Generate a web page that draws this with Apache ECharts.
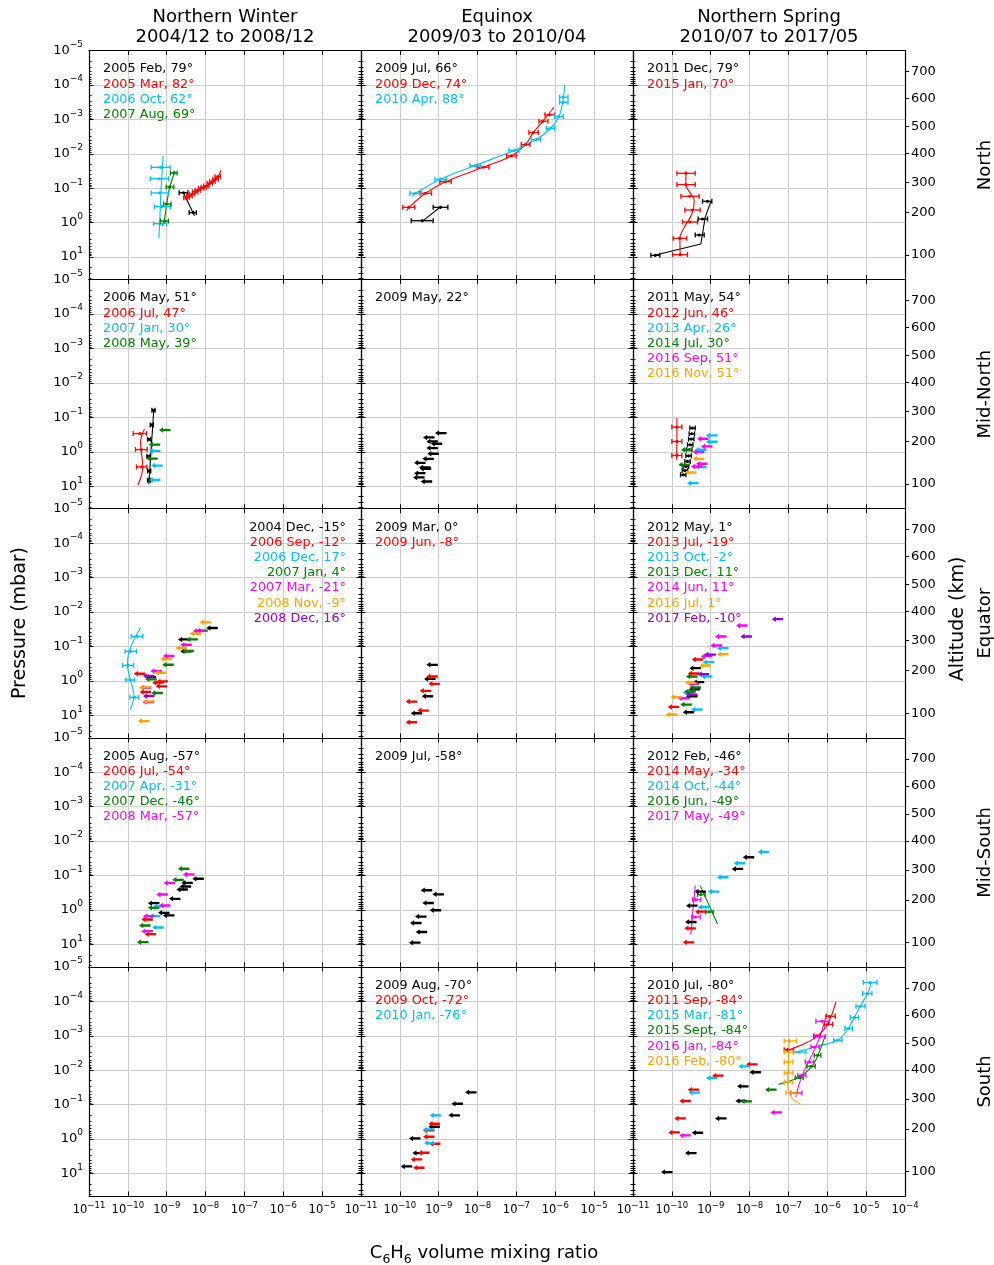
<!DOCTYPE html>
<html>
<head>
<meta charset="utf-8">
<script src="https://cdn.jsdelivr.net/npm/echarts@6/dist/echarts.min.js"></script>
<style>
html, body { margin: 0; padding: 0; background: #fff; }
#chart { width: 994px; height: 1265px; }
</style>
</head>
<body>
<div id="chart"></div>
<script>
// ---- axis ticks / labels ----
const xTickValues = [1e-11, 1e-10, 1e-9, 1e-8, 1e-7, 1e-6, 1e-5, 1e-4];
const xLabelValues = [1e-11, 1e-10, 1e-9, 1e-8, 1e-7, 1e-6, 1e-5];
const xLabelValuesLast = [1e-11, 1e-10, 1e-9, 1e-8, 1e-7, 1e-6, 1e-5, 1e-4];
const pressureTicks = [1e-5, 1e-4, 1e-3, 1e-2, 1e-1, 1, 10];
const altitudeLabels = [100, 200, 300, 400, 500, 600, 700];
const altitudePressure = [8.67, 0.506, 0.068, 9.8e-3, 1.61e-3, 2.48e-4, 4.07e-5];
const columnTitles = ['Northern Winter\n2004/12 to 2008/12', 'Equinox\n2009/03 to 2010/04', 'Northern Spring\n2010/07 to 2017/05'];
const rowNames = ['North', 'Mid-North', 'Equator', 'Mid-South', 'South'];

// ---- data: [x, p, xlo, xhi] for retrievals, [x, p] for fits and upper limits ----
// Northern Winter
const wN_2005Feb = [[2.7e-9, 0.135, 2.09e-9, 3.49e-9], [4.8e-9, 0.51, 3.77e-9, 5.8e-9]];
const wN_2005FebFit = [[2.7e-9, 0.135], [5.2e-9, 0.63]];
const wN_2005Mar = [[3.22e-9, 0.188, 2.74e-9, 3.78e-9], [3.85e-9, 0.168, 3.27e-9, 4.52e-9], [4.5e-9, 0.147, 3.83e-9, 5.29e-9],
  [5.4e-9, 0.128, 4.59e-9, 6.35e-9], [6.3e-9, 0.115, 5.36e-9, 7.4e-9], [7.7e-9, 0.1, 6.55e-9, 9.05e-9], [9.0e-9, 0.094, 7.65e-9, 1.06e-8],
  [1.05e-8, 0.086, 8.9e-9, 1.23e-8], [1.28e-8, 0.072, 1.09e-8, 1.5e-8], [1.5e-8, 0.064, 1.28e-8, 1.76e-8], [1.8e-8, 0.055, 1.53e-8, 2.12e-8],
  [2.06e-8, 0.046, 1.75e-8, 2.42e-8]];
const wN_2005MarFit = [[2.98e-9, 0.22], [4.25e-9, 0.161], [7.7e-9, 0.108], [1.39e-8, 0.069], [2.06e-8, 0.048], [2.5e-8, 0.0295]];
const wN_2006Oct = [[6.9e-10, 0.0247, 3.98e-10, 1.22e-9], [6.5e-10, 0.053, 3.8e-10, 1.13e-9], [6.6e-10, 0.137, 3.98e-10, 1.13e-9],
  [7.5e-10, 0.343, 4.85e-10, 1.25e-9], [6.6e-10, 1.07, 4.6e-10, 1.0e-9]];
const wN_2006OctFit = [[8.1e-10, 0.0116], [7.5e-10, 0.046], [7.05e-10, 0.14], [6.8e-10, 0.43], [6.5e-10, 1.31], [6.3e-10, 2.85]];
const wN_2007Aug = [[1.52e-9, 0.036, 1.25e-9, 1.85e-9], [1.18e-9, 0.092, 9.7e-10, 1.52e-9], [1.0e-9, 0.287, 8.4e-10, 1.3e-9],
  [8.8e-10, 0.895, 6.9e-10, 1.11e-9]];
const wN_2007AugFit = [[1.65e-9, 0.031], [1.2e-9, 0.092], [1.0e-9, 0.287], [8.6e-10, 0.895], [7.6e-10, 1.22]];

const wMN_2006May = [[4.57e-10, 0.0624, 4.16e-10, 5.03e-10], [4.14e-10, 0.166, 3.77e-10, 4.55e-10], [3.53e-10, 0.434, 3.21e-10, 3.88e-10],
  [3.4e-10, 1.35, 3.09e-10, 3.74e-10], [3.53e-10, 3.6, 3.21e-10, 3.88e-10], [3.53e-10, 6.7, 3.21e-10, 3.88e-10]];
const wMN_2006MayFit = [[4.66e-10, 0.057], [3.47e-10, 8.8]];
const wMN_2006Jul = [[2.03e-10, 0.296, 1.37e-10, 3.02e-10], [2.2e-10, 0.865, 1.57e-10, 3.14e-10], [2.29e-10, 2.75, 1.67e-10, 3.08e-10]];
const wMN_2006JulFit = [[2.68e-10, 0.217], [2.12e-10, 0.52], [2.2e-10, 0.9], [2.43e-10, 2.75], [1.81e-10, 9.4]];
const wMN_2007JanLim = [[6.9e-10, 0.946], [7.9e-10, 2.52], [6.9e-10, 6.6]];
const wMN_2008MayLim = [[1.25e-9, 0.235], [6.8e-10, 0.62], [5.9e-10, 1.58]];

const wEQ_2004DecLim = [[2.06e-8, 0.0292], [3.85e-9, 0.0624], [4.42e-9, 0.139], [5.35e-10, 0.775]];
const wEQ_2006SepLim = [[2.79e-10, 0.62], [8.4e-10, 1.13], [1.07e-9, 1.035], [1.03e-9, 1.44], [3.98e-10, 2.11]];
const wEQ_2006Dec = [[1.7e-10, 0.051, 1.22e-10, 2.43e-10], [1.17e-10, 0.139, 8.5e-11, 1.67e-10], [1.0e-10, 0.355, 7.3e-11, 1.4e-10],
  [1.17e-10, 0.946, 8.9e-11, 1.48e-10], [1.48e-10, 3.01, 1.13e-10, 1.92e-10]];
const wEQ_2006DecFit = [[2.12e-10, 0.0286], [1.48e-10, 0.0596], [1.04e-10, 0.163], [9.8e-11, 0.355], [1.17e-10, 0.946], [1.43e-10, 2.64], [1.15e-10, 6.9]];
const wEQ_2007JanLim = [[1.14e-8, 0.0349], [6.3e-9, 0.0624], [4.97e-9, 0.136], [1.52e-9, 0.34], [5.56e-10, 0.9], [7.95e-10, 2.25]];
const wEQ_2007MarLim = [[9.35e-9, 0.0357], [4.42e-9, 0.0891], [1.58e-9, 0.19], [7.5e-10, 0.518], [3.98e-10, 1.58], [4.66e-10, 4.12]];
const wEQ_2008NovLim = [[1.39e-8, 0.02], [7.7e-9, 0.0427], [3.35e-9, 0.111], [1.35e-9, 0.232], [9.7e-10, 0.58], [3.83e-10, 1.55],
  [4.85e-10, 3.94], [3.6e-10, 14.7]];
const wEQ_2008DecLim = [[4.85e-10, 0.724], [4.85e-10, 2.75]];

const wMS_2005AugLim = [[9.0e-9, 0.124], [4.69e-9, 0.163], [4.25e-9, 0.208], [3.49e-9, 0.254], [2.26e-9, 0.474], [6.5e-10, 0.634],
  [1.18e-9, 1.21], [1.58e-9, 1.44]];
const wMS_2006JulLim = [[4.4e-10, 1.89], [5.35e-10, 5.04]];
const wMS_2007AprLim = [[8.8e-10, 0.79], [6.9e-10, 1.51], [8.4e-10, 3.22]];
const wMS_2007DecLim = [[3.85e-9, 0.0637], [2.75e-9, 0.133], [6.5e-10, 0.865], [3.83e-10, 2.82], [3.4e-10, 8.6]];
const wMS_2008MarLim = [[5.17e-9, 0.093], [1.65e-9, 0.166], [1.07e-9, 0.355], [1.25e-9, 0.74], [4.85e-10, 1.51], [4.4e-10, 4.12]];

// Equinox
const eN_2009Jul = [[1.11e-9, 0.358, 7.2e-10, 1.72e-9], [3.76e-10, 0.875, 1.96e-10, 7.2e-10]];
const eN_2009JulFit = [[3.99e-10, 0.875], [1.18e-9, 0.328]];
const eN_2009Dec = [[1.71e-10, 0.358, 1.19e-10, 2.43e-10], [4.58e-10, 0.14, 3.27e-10, 6.54e-10], [1.5e-9, 0.0643, 1.07e-9, 2.1e-9],
  [1.4e-8, 0.0246, 9.8e-9, 1.96e-8], [7.36e-8, 0.0115, 5.58e-8, 9.9e-8], [1.72e-7, 0.0054, 1.33e-7, 2.23e-7],
  [2.71e-7, 0.00242, 2.1e-7, 3.65e-7], [4.81e-7, 0.00113, 3.8e-7, 6.47e-7], [7.14e-7, 7.4e-4, 5.42e-7, 9.6e-7]];
const eN_2009DecFit = [[1.49e-10, 0.448], [1.71e-10, 0.358], [4.58e-10, 0.14], [1.5e-9, 0.0643], [1.4e-8, 0.0246], [7.36e-8, 0.0115],
  [1.72e-7, 0.0054], [2.71e-7, 0.00242], [4.81e-7, 0.00113], [9.25e-7, 4.45e-4]];
const eN_2010Apr = [[2.53e-10, 0.14, 1.81e-10, 3.61e-10], [1.11e-9, 0.055, 7.96e-10, 1.59e-9], [8.53e-9, 0.022, 6.35e-9, 1.19e-8],
  [8.63e-8, 0.00807, 6.41e-8, 1.16e-7], [3.24e-7, 0.00386, 2.41e-7, 4.19e-7], [7.59e-7, 0.00181, 5.86e-7, 9.6e-7],
  [1.24e-6, 8.3e-4, 9.6e-7, 1.61e-6], [1.61e-6, 3.18e-4, 1.29e-6, 2.12e-6], [1.61e-6, 2.28e-4, 1.29e-6, 2.12e-6]];
const eN_2010AprFit = [[2.08e-10, 0.171], [2.53e-10, 0.14], [1.11e-9, 0.055], [8.53e-9, 0.022], [8.63e-8, 0.00807], [3.24e-7, 0.00386],
  [7.59e-7, 0.00181], [1.24e-6, 8.3e-4], [1.55e-6, 3.2e-4], [1.74e-6, 1.04e-4]];
const eMN_2009MayLim = [[1.59e-9, 0.286], [7.8e-10, 0.383], [9.5e-10, 0.501], [1.23e-9, 0.585], [9.5e-10, 0.782], [1.01e-9, 1.14],
  [7.5e-10, 1.6], [4.58e-10, 2.09], [6.16e-10, 2.85], [6.41e-10, 3.12], [4.58e-10, 4.17], [4.32e-10, 5.57], [6.8e-10, 7.28]];
const eEQ_2009MarLim = [[9.5e-10, 0.343], [8.3e-10, 0.875], [7.2e-10, 2.79], [3.76e-10, 8.7]];
const eEQ_2009JunLim = [[9.5e-10, 0.748], [1.07e-9, 1.22], [6.41e-10, 1.95], [2.79e-10, 3.99], [5.58e-10, 7.28], [2.79e-10, 15.9]];
const eMS_2009JulLim = [[6.8e-10, 0.268], [1.36e-9, 0.351], [7.5e-10, 0.626], [1.16e-9, 1.02], [4.86e-10, 1.56], [3.61e-10, 2.39],
  [5.05e-10, 4.36], [3.4e-10, 8.9]];
const eS_2009AugLim = [[9.43e-9, 0.044], [4.19e-9, 0.094], [3.51e-9, 0.205], [1.07e-9, 0.438], [3.4e-10, 0.957], [4.15e-10, 2.55], [2.08e-10, 6.23]];
const eS_2009OctLim = [[1.07e-9, 0.358], [7.8e-10, 0.56], [7.8e-10, 0.855], [1.11e-9, 1.37], [5.81e-10, 2.5], [3.76e-10, 3.9], [4.32e-10, 6.8]];
const eS_2010JanLim = [[1.16e-9, 0.205], [7.8e-10, 0.524], [8.3e-10, 1.31]];

// Northern Spring
const sN_2011Dec = [[8.28e-10, 0.24, 6.16e-10, 1.07e-9], [6.16e-10, 0.782, 4.76e-10, 8.28e-10], [5.05e-10, 2.28, 3.99e-10, 6.8e-10],
  [3.72e-11, 8.9, 2.88e-11, 4.91e-11]];
const sN_2011DecFit = [[1.01e-9, 0.24], [7.2e-10, 0.7], [5.58e-10, 4.17], [3.18e-11, 9.1]];
const sN_2015Jan = [[2.29e-10, 0.0368, 1.35e-10, 3.99e-10], [2.29e-10, 0.0785, 1.35e-10, 3.99e-10], [2.91e-10, 0.171, 1.71e-10, 5.05e-10],
  [3.4e-10, 0.428, 2.16e-10, 5.37e-10], [2.91e-10, 0.957, 1.88e-10, 4.58e-10], [1.61e-10, 2.85, 1.08e-10, 2.43e-10],
  [1.64e-10, 8.5, 1.04e-10, 2.53e-10]];
const sN_2015JanFit = [[2.29e-10, 0.0322], [2.29e-10, 0.0785], [3.76e-10, 0.229], [3.27e-10, 0.56], [2.08e-10, 1.37], [1.61e-10, 2.85], [1.64e-10, 9.1]];

const sMN_2011May = [[3.4e-10, 0.205, 2.9e-10, 4.0e-10], [3.27e-10, 0.3, 2.79e-10, 3.84e-10], [3.15e-10, 0.428, 2.69e-10, 3.7e-10],
  [2.97e-10, 0.626, 2.53e-10, 3.49e-10], [2.79e-10, 0.875, 2.38e-10, 3.28e-10], [2.69e-10, 1.31, 2.29e-10, 3.16e-10],
  [2.53e-10, 1.91, 2.16e-10, 2.97e-10], [2.29e-10, 2.67, 1.95e-10, 2.69e-10], [2.16e-10, 3.49, 1.84e-10, 2.54e-10],
  [1.96e-10, 4.67, 1.67e-10, 2.3e-10]];
const sMN_2012Jun = [[1.35e-10, 0.192, 1.0e-10, 1.81e-10], [1.35e-10, 0.501, 1.0e-10, 1.81e-10], [1.35e-10, 1.28, 1.0e-10, 1.81e-10]];
const sMN_2012JunFit = [[1.35e-10, 0.105], [1.35e-10, 0.5], [1.32e-10, 1.71]];
const sMN_2013AprLim = [[1.5e-9, 0.335], [1.5e-9, 0.512], [7.8e-10, 0.875], [7.8e-10, 2.79], [4.86e-10, 8.15]];
const sMN_2014JulLim = [[3.4e-10, 0.875], [2.91e-10, 2.39]];
const sMN_2016SepLim = [[8.8e-10, 0.419], [1.11e-9, 0.7], [6.8e-10, 1.02], [8.28e-10, 2.23], [6.16e-10, 2.67]];
const sMN_2016NovLim = [[6.8e-10, 1.6], [4.32e-10, 3.99]];

const sEQ_2012MayLim = [[5.58e-10, 0.428], [6.8e-10, 1.09], [5.37e-10, 1.75], [4.58e-10, 2.79], [3.76e-10, 8.15]];
const sEQ_2013JulLim = [[6.41e-10, 0.24], [5.05e-10, 0.612], [1.55e-10, 5.7]];
const sEQ_2013OctLim = [[2.88e-9, 0.112], [1.23e-9, 0.286], [1.11e-9, 0.748], [3.76e-10, 2.23], [6.16e-10, 6.8]];
const sEQ_2013DecLim = [[4.58e-10, 0.748], [5.58e-10, 1.56], [4.15e-10, 2.04], [3.27e-10, 4.88]];
const sEQ_2014JunLim = [[8.88e-9, 0.0246], [2.56e-9, 0.0514], [1.94e-9, 0.094], [1.11e-9, 0.192], [5.05e-10, 1.22], [2.79e-10, 3.19]];
const sEQ_2016JulLim = [[2.88e-9, 0.168], [1.01e-9, 0.358], [4.32e-10, 1.14], [1.81e-10, 2.98], [1.4e-10, 9.5]];
const sEQ_2017FebLim = [[7.36e-8, 0.0161], [1.15e-8, 0.0514], [1.36e-9, 0.172], [9.14e-10, 0.64], [4.58e-10, 2.5]];

const sMS_2012FebLim = [[1.32e-8, 0.0294], [6.87e-9, 0.0643], [7.51e-10, 0.293], [4.58e-10, 0.748], [4.32e-10, 2.23]];
const sMS_2014MayLim = [[7.8e-10, 1.12], [4.15e-10, 3.41], [3.76e-10, 8.7]];
const sMS_2014OctLim = [[3.21e-8, 0.0206], [7.73e-9, 0.044], [2.88e-9, 0.112], [1.66e-9, 0.293], [9.14e-10, 0.836]];
const sMS_2016Jun = [[5.58e-10, 0.358, 4.58e-10, 7.2e-10], [9.14e-10, 1.14, 7.51e-10, 1.16e-9]];
const sMS_2016JunFit = [[5.37e-10, 0.196], [1.5e-9, 2.55]];
const sMS_2017May = [[4.15e-10, 0.501, 3.4e-10, 5.58e-10], [3.99e-10, 1.6, 3.27e-10, 5.37e-10]];
const sMS_2017MayFit = [[3.99e-10, 0.196], [3.08e-10, 5.2]];

const sS_2010JulLim = [[1.96e-8, 0.0115], [9.43e-9, 0.0294], [8.53e-9, 0.0785], [2.56e-9, 0.251], [6.41e-10, 0.655], [4.32e-10, 2.55], [1.04e-10, 9.1]];
const sS_2011SepLim = [[1.61e-8, 0.00675], [2.14e-9, 0.0144], [5.05e-10, 0.0368], [3.08e-10, 0.0785], [2.29e-10, 0.251], [1.61e-10, 0.64]];
const sS_2011Sep = [[9.5e-8, 0.00253, 7.8e-8, 1.36e-7], [5.42e-7, 0.00101, 4.45e-7, 6.6e-7], [1.02e-6, 4.65e-4, 8.4e-7, 1.37e-6],
  [1.13e-6, 2.72e-4, 9.25e-7, 1.61e-6]];
const sS_2011SepFit = [[8.63e-8, 0.00277], [2.82e-7, 0.00162], [5.64e-7, 0.00101], [1.02e-6, 4.65e-4], [1.67e-6, 1.04e-4]];
const sS_2015MarLim = [[1.02e-8, 0.00772], [1.5e-9, 0.0169], [5.37e-10, 0.045]];
const sS_2015Mar = [[1.9e-7, 0.00296, 1.33e-7, 2.82e-7], [1.85e-6, 0.00135, 1.46e-6, 2.39e-6], [3.54e-6, 6.2e-4, 2.85e-6, 4.49e-6],
  [4.95e-6, 2.97e-4, 3.91e-6, 6.41e-6], [7.08e-6, 1.39e-4, 5.47e-6, 9.33e-6], [1.09e-5, 5.95e-5, 8.13e-6, 1.41e-5],
  [1.28e-5, 2.85e-5, 8.45e-6, 1.9e-5]];
const sS_2015MarFit = [[1.41e-7, 0.00316], [4.62e-7, 0.00212], [1.67e-6, 0.00142], [3.03e-6, 7.76e-4], [4.95e-6, 2.97e-4],
  [7.08e-6, 1.39e-4], [1.09e-5, 5.95e-5], [1.39e-5, 2.73e-5]];
const sS_2015SeptLim = [[4.95e-8, 0.0368], [1.15e-8, 0.08]];
const sS_2015Sept = [[5.64e-7, 0.0037, 4.62e-7, 6.87e-7], [3.8e-7, 0.00772, 2.99e-7, 4.91e-7], [1.9e-7, 0.0165, 1.5e-7, 2.41e-7]];
const sS_2015SeptFit = [[5.58e-8, 0.0258], [1.9e-7, 0.0157], [4.19e-7, 0.00722], [6.22e-7, 0.00296], [8.87e-7, 9.7e-4]];
const sS_2016JanLim = [[6.8e-8, 0.168], [3.08e-10, 0.782]];
const sS_2016Jan = [[7.29e-7, 3.79e-4, 5.1e-7, 1.13e-6], [6.22e-7, 0.00104, 4.62e-7, 8.87e-7], [4.62e-7, 0.00212, 3.8e-7, 6.22e-7],
  [3.43e-7, 0.00578, 2.71e-7, 4.45e-7], [2.23e-7, 0.0141, 1.72e-7, 2.82e-7], [1.62e-7, 0.046, 1.16e-7, 2.23e-7]];
const sS_2016JanFit = [[9.6e-7, 2.28e-4], [6.87e-7, 8.67e-4], [4.19e-7, 0.0033], [2.56e-7, 0.0101], [1.9e-7, 0.0246], [1.56e-7, 0.0601]];
const sS_2016Feb = [[1.05e-7, 0.00141, 7.8e-8, 1.62e-7], [1.0e-7, 0.00296, 7.8e-8, 1.4e-7], [9.7e-8, 0.00578, 7.8e-8, 1.3e-7],
  [9.7e-8, 0.012, 7.8e-8, 1.3e-7], [9.7e-8, 0.022, 7.8e-8, 1.3e-7], [1.2e-7, 0.046, 8.6e-8, 1.62e-7]];
const sS_2016FebFit = [[1.05e-7, 0.00121], [9.9e-8, 0.00807], [9.5e-8, 0.022], [1.18e-7, 0.0601], [2.1e-7, 0.0982]];

const CLR = { k: '#000000', r: '#ff0000', b: '#00bfff', g: '#008000', m: '#ff00ff', o: '#ffa500', p: '#9400d3' };

const panels = [
  { row: 0, col: 0, legend: [['2005 Feb, 79°', 'k'], ['2005 Mar, 82°', 'r'], ['2006 Oct, 62°', 'b'], ['2007 Aug, 69°', 'g']],
    marks: [{ c: 'b', pts: wN_2006Oct, fit: wN_2006OctFit }, { c: 'g', pts: wN_2007Aug, fit: wN_2007AugFit },
      { c: 'k', pts: wN_2005Feb, fit: wN_2005FebFit, straight: true }, { c: 'r', pts: wN_2005Mar, fit: wN_2005MarFit }] },
  { row: 0, col: 1, legend: [['2009 Jul, 66°', 'k'], ['2009 Dec, 74°', 'r'], ['2010 Apr, 88°', 'b']],
    marks: [{ c: 'k', pts: eN_2009Jul, fit: eN_2009JulFit, straight: true }, { c: 'r', pts: eN_2009Dec, fit: eN_2009DecFit },
      { c: 'b', pts: eN_2010Apr, fit: eN_2010AprFit }] },
  { row: 0, col: 2, legend: [['2011 Dec, 79°', 'k'], ['2015 Jan, 70°', 'r']],
    marks: [{ c: 'k', pts: sN_2011Dec, fit: sN_2011DecFit, straight: true }, { c: 'r', pts: sN_2015Jan, fit: sN_2015JanFit }] },
  { row: 1, col: 0, legend: [['2006 May, 51°', 'k'], ['2006 Jul, 47°', 'r'], ['2007 Jan, 30°', 'b'], ['2008 May, 39°', 'g']],
    marks: [{ c: 'k', pts: wMN_2006May, fit: wMN_2006MayFit, straight: true }, { c: 'r', pts: wMN_2006Jul, fit: wMN_2006JulFit },
      { c: 'b', lim: wMN_2007JanLim }, { c: 'g', lim: wMN_2008MayLim }] },
  { row: 1, col: 1, legend: [['2009 May, 22°', 'k']], marks: [{ c: 'k', lim: eMN_2009MayLim }] },
  { row: 1, col: 2, legend: [['2011 May, 54°', 'k'], ['2012 Jun, 46°', 'r'], ['2013 Apr, 26°', 'b'], ['2014 Jul, 30°', 'g'],
      ['2016 Sep, 51°', 'm'], ['2016 Nov, 51°', 'o']],
    marks: [{ c: 'k', pts: sMN_2011May }, { c: 'r', pts: sMN_2012Jun, fit: sMN_2012JunFit, straight: true },
      { c: 'b', lim: sMN_2013AprLim }, { c: 'g', lim: sMN_2014JulLim }, { c: 'm', lim: sMN_2016SepLim }, { c: 'o', lim: sMN_2016NovLim }] },
  { row: 2, col: 0, alignRight: true, legend: [['2004 Dec, -15°', 'k'], ['2006 Sep, -12°', 'r'], ['2006 Dec, 17°', 'b'], ['2007 Jan, 4°', 'g'],
      ['2007 Mar, -21°', 'm'], ['2008 Nov, -9°', 'o'], ['2008 Dec, 16°', 'p']],
    marks: [{ c: 'b', pts: wEQ_2006Dec, fit: wEQ_2006DecFit }, { c: 'k', lim: wEQ_2004DecLim }, { c: 'r', lim: wEQ_2006SepLim },
      { c: 'g', lim: wEQ_2007JanLim }, { c: 'm', lim: wEQ_2007MarLim }, { c: 'o', lim: wEQ_2008NovLim }, { c: 'p', lim: wEQ_2008DecLim }] },
  { row: 2, col: 1, legend: [['2009 Mar, 0°', 'k'], ['2009 Jun, -8°', 'r']],
    marks: [{ c: 'k', lim: eEQ_2009MarLim }, { c: 'r', lim: eEQ_2009JunLim }] },
  { row: 2, col: 2, legend: [['2012 May, 1°', 'k'], ['2013 Jul, -19°', 'r'], ['2013 Oct, -2°', 'b'], ['2013 Dec, 11°', 'g'],
      ['2014 Jun, 11°', 'm'], ['2016 Jul, 1°', 'o'], ['2017 Feb, -10°', 'p']],
    marks: [{ c: 'k', lim: sEQ_2012MayLim }, { c: 'r', lim: sEQ_2013JulLim }, { c: 'b', lim: sEQ_2013OctLim }, { c: 'g', lim: sEQ_2013DecLim },
      { c: 'm', lim: sEQ_2014JunLim }, { c: 'o', lim: sEQ_2016JulLim }, { c: 'p', lim: sEQ_2017FebLim }] },
  { row: 3, col: 0, legend: [['2005 Aug, -57°', 'k'], ['2006 Jul, -54°', 'r'], ['2007 Apr, -31°', 'b'], ['2007 Dec, -46°', 'g'], ['2008 Mar, -57°', 'm']],
    marks: [{ c: 'k', lim: wMS_2005AugLim }, { c: 'r', lim: wMS_2006JulLim }, { c: 'b', lim: wMS_2007AprLim }, { c: 'g', lim: wMS_2007DecLim },
      { c: 'm', lim: wMS_2008MarLim }] },
  { row: 3, col: 1, legend: [['2009 Jul, -58°', 'k']], marks: [{ c: 'k', lim: eMS_2009JulLim }] },
  { row: 3, col: 2, legend: [['2012 Feb, -46°', 'k'], ['2014 May, -34°', 'r'], ['2014 Oct, -44°', 'b'], ['2016 Jun, -49°', 'g'], ['2017 May, -49°', 'm']],
    marks: [{ c: 'k', lim: sMS_2012FebLim }, { c: 'r', lim: sMS_2014MayLim }, { c: 'b', lim: sMS_2014OctLim },
      { c: 'g', pts: sMS_2016Jun, fit: sMS_2016JunFit, straight: true }, { c: 'm', pts: sMS_2017May, fit: sMS_2017MayFit, straight: true }] },
  { row: 4, col: 0, legend: [], marks: [] },
  { row: 4, col: 1, legend: [['2009 Aug, -70°', 'k'], ['2009 Oct, -72°', 'r'], ['2010 Jan, -76°', 'b']],
    marks: [{ c: 'k', lim: eS_2009AugLim }, { c: 'r', lim: eS_2009OctLim }, { c: 'b', lim: eS_2010JanLim }] },
  { row: 4, col: 2, legend: [['2010 Jul, -80°', 'k'], ['2011 Sep, -84°', 'r'], ['2015 Mar, -81°', 'b'], ['2015 Sept, -84°', 'g'],
      ['2016 Jan, -84°', 'm'], ['2016 Feb, -80°', 'o']],
    marks: [{ c: 'k', lim: sS_2010JulLim }, { c: 'r', lim: sS_2011SepLim, pts: sS_2011Sep, fit: sS_2011SepFit },
      { c: 'b', lim: sS_2015MarLim, pts: sS_2015Mar, fit: sS_2015MarFit }, { c: 'g', lim: sS_2015SeptLim, pts: sS_2015Sept, fit: sS_2015SeptFit },
      { c: 'm', lim: sS_2016JanLim, pts: sS_2016Jan, fit: sS_2016JanFit }, { c: 'o', pts: sS_2016Feb, fit: sS_2016FebFit }] }
];

// ---- layout ----
const COL_LEFT = [89, 361, 633];
const COL_W = 272;
const ROW_TOP = 50.5;
const ROW_H = 229.1;
const P_MIN = 1e-5, P_MAX = 45;
const FONT = '"DejaVu Sans", sans-serif';
const GRID_COLOR = '#cccccc';

// minor ticks at 2..9 x 10^n
const pressureMinor = [];
for (let e = -5; e <= 1; e++) {
  for (let m = 2; m <= 9; m++) {
    const v = m * Math.pow(10, e);
    if (v < P_MAX) pressureMinor.push(v);
  }
}

function powLabel(v) {
  const e = Math.round(Math.log10(v));
  return '{b|10}{s|' + (e < 0 ? '\u2212' + (-e) : String(e)) + '}';
}
function altLabel(v) {
  let best = 0;
  altitudePressure.forEach((p, i) => {
    if (Math.abs(Math.log10(p) - Math.log10(v)) < Math.abs(Math.log10(altitudePressure[best]) - Math.log10(v))) best = i;
  });
  return String(altitudeLabels[best]);
}
const xRich = {
  b: { fontSize: 11.5, fontFamily: FONT, color: '#000', lineHeight: 19 },
  s: { fontSize: 8.5, fontFamily: FONT, color: '#000', verticalAlign: 'top', lineHeight: 10 }
};
const yRich = {
  b: { fontSize: 13, fontFamily: FONT, color: '#000', lineHeight: 21 },
  s: { fontSize: 9, fontFamily: FONT, color: '#000', verticalAlign: 'top', lineHeight: 10 }
};

const spine = { show: true, onZero: false, lineStyle: { color: '#000', width: 1.2 } };
const tickStyle = { color: '#000', width: 1 };

function renderErrorBar(params, api) {
  const p = api.coord([api.value(0), api.value(1)]);
  const lo = api.coord([api.value(2), api.value(1)]);
  const hi = api.coord([api.value(3), api.value(1)]);
  const color = api.visual('color');
  const st = { stroke: color, lineWidth: 1.3, fill: null };
  return {
    type: 'group',
    children: [
      { type: 'line', shape: { x1: lo[0], y1: p[1], x2: hi[0], y2: p[1] }, style: st },
      { type: 'line', shape: { x1: lo[0], y1: p[1] - 2.5, x2: lo[0], y2: p[1] + 2.5 }, style: st },
      { type: 'line', shape: { x1: hi[0], y1: p[1] - 2.5, x2: hi[0], y2: p[1] + 2.5 }, style: st },
      { type: 'circle', shape: { cx: p[0], cy: p[1], r: 1.6 }, style: { fill: color } }
    ]
  };
}

// left-pointing upper-limit arrow: head + thick shaft
const ARROW = 'path://M0,4 L5,0 L5,2.3 L14,2.3 L14,5.7 L5,5.7 L5,8 Z';

const grids = [], xAxes = [], yAxes = [], series = [], graphics = [];

panels.forEach((pn, g) => {
  const r = pn.row, c = pn.col;
  const left = COL_LEFT[c], top = ROW_TOP + r * ROW_H;
  grids.push({ left: left, top: top, width: COL_W, height: ROW_H, outerBoundsMode: 'none', containLabel: false });

  const xBase = { gridIndex: g, type: 'log', min: 1e-11, max: 1e-4 };
  xAxes.push(Object.assign({}, xBase, {
    position: 'bottom', axisLine: spine,
    axisTick: { show: true, inside: true, length: 4.5, customValues: xTickValues, lineStyle: tickStyle },
    axisLabel: { show: r === 4, customValues: c === 2 ? xLabelValuesLast : xLabelValues, formatter: powLabel, margin: 5, rich: xRich },
    splitLine: { show: true, lineStyle: { color: GRID_COLOR, width: 1 } }
  }));
  xAxes.push(Object.assign({}, xBase, {
    position: 'top', axisLine: spine,
    axisTick: { show: true, inside: true, length: 4.5, customValues: xTickValues, lineStyle: tickStyle },
    axisLabel: { show: false }, splitLine: { show: false }
  }));

  const yBase = { gridIndex: g, type: 'log', min: P_MIN, max: P_MAX, inverse: true };
  yAxes.push(Object.assign({}, yBase, {
    position: 'left', axisLine: spine,
    axisTick: { show: true, inside: true, length: 4.5, customValues: pressureTicks, lineStyle: tickStyle },
    axisLabel: { show: c === 0, customValues: pressureTicks, formatter: powLabel, margin: 6, rich: yRich },
    splitLine: { show: true, lineStyle: { color: GRID_COLOR, width: 1 } }
  }));
  yAxes.push(Object.assign({}, yBase, {
    position: 'left', axisLine: { show: false },
    axisTick: { show: true, inside: true, length: 2.5, customValues: pressureMinor, lineStyle: tickStyle },
    axisLabel: { show: false }, splitLine: { show: false }
  }));
  if (c < 2) {
    yAxes.push(Object.assign({}, yBase, {
      position: 'right', axisLine: spine,
      axisTick: { show: true, inside: true, length: 4.5, customValues: pressureTicks, lineStyle: tickStyle },
      axisLabel: { show: false }, splitLine: { show: false }
    }));
    yAxes.push(Object.assign({}, yBase, {
      position: 'right', axisLine: { show: false },
      axisTick: { show: true, inside: true, length: 2.5, customValues: pressureMinor, lineStyle: tickStyle },
      axisLabel: { show: false }, splitLine: { show: false }
    }));
  } else {
    yAxes.push(Object.assign({}, yBase, {
      position: 'right', axisLine: spine,
      axisTick: { show: true, inside: false, length: 4, customValues: altitudePressure, lineStyle: tickStyle },
      axisLabel: { show: true, customValues: altitudePressure, formatter: altLabel, margin: 6,
        fontSize: 13, fontFamily: FONT, color: '#000' },
      splitLine: { show: false }
    }));
    yAxes.push(Object.assign({}, yBase, { position: 'right', show: false }));
  }

  const xi = 2 * g, yi = 4 * g;
  pn.marks.forEach(mk => {
    const color = CLR[mk.c];
    if (mk.fit) {
      series.push({ type: 'line', xAxisIndex: xi, yAxisIndex: yi, data: mk.fit, smooth: mk.straight ? false : 0.35,
        showSymbol: false, symbol: 'none', lineStyle: { color: color, width: 1.1 }, z: 2, silent: true });
    }
    if (mk.pts) {
      series.push({ type: 'custom', xAxisIndex: xi, yAxisIndex: yi, data: mk.pts, renderItem: renderErrorBar,
        itemStyle: { color: color }, encode: { x: 0, y: 1 }, z: 3, silent: true });
    }
    if (mk.lim) {
      series.push({ type: 'scatter', xAxisIndex: xi, yAxisIndex: yi, data: mk.lim, symbol: ARROW, symbolSize: [11.5, 5.5],
        symbolOffset: [-5.75, 0], itemStyle: { color: color, opacity: 1 }, z: 4, silent: true });
    }
  });

  pn.legend.forEach((it, i) => {
    graphics.push({ type: 'text', x: pn.alignRight ? left + COL_W - 15 : left + 14, y: top + 18.5 + i * 15.2, silent: true, z: 100,
      style: { text: it[0], fill: CLR[it[1]], font: '12.8px ' + FONT, align: pn.alignRight ? 'right' : 'left', verticalAlign: 'middle' } });
  });
});

// column titles
columnTitles.forEach((t, c) => {
  const cx = COL_LEFT[c] + COL_W / 2;
  t.split('\n').forEach((line, i) => {
    graphics.push({ type: 'text', x: cx, y: 17 + i * 20.5, silent: true,
      style: { text: line, fill: '#000', font: '18px ' + FONT, align: 'center', verticalAlign: 'middle' } });
  });
});
// row names
rowNames.forEach((name, r) => {
  graphics.push({ type: 'text', x: 985, y: ROW_TOP + r * ROW_H + ROW_H / 2, rotation: Math.PI / 2, silent: true,
    style: { text: name, fill: '#000', font: '18px ' + FONT, align: 'center', verticalAlign: 'middle' } });
});
graphics.push({ type: 'text', x: 20, y: 623, rotation: Math.PI / 2, silent: true,
  style: { text: 'Pressure (mbar)', fill: '#000', font: '19px ' + FONT, align: 'center', verticalAlign: 'middle' } });
graphics.push({ type: 'text', x: 958, y: 619, rotation: Math.PI / 2, silent: true,
  style: { text: 'Altitude (km)', fill: '#000', font: '19px ' + FONT, align: 'center', verticalAlign: 'middle' } });
graphics.push({ type: 'text', x: 484, y: 1253, silent: true,
  style: { text: '{n|C}{s|6}{n|H}{s|6}{n| volume mixing ratio}', align: 'center', verticalAlign: 'middle',
    rich: { n: { fontSize: 18, fontFamily: FONT, fill: '#000', color: '#000', verticalAlign: 'bottom' },
            s: { fontSize: 12.5, fontFamily: FONT, fill: '#000', color: '#000', verticalAlign: 'bottom', padding: [0, 0, -4, 0] } } } });

const chart = echarts.init(document.getElementById('chart'));
chart.setOption({
  animation: false,
  backgroundColor: '#ffffff',
  grid: grids,
  xAxis: xAxes,
  yAxis: yAxes,
  series: series,
  graphic: graphics
});
</script>
</body>
</html>
